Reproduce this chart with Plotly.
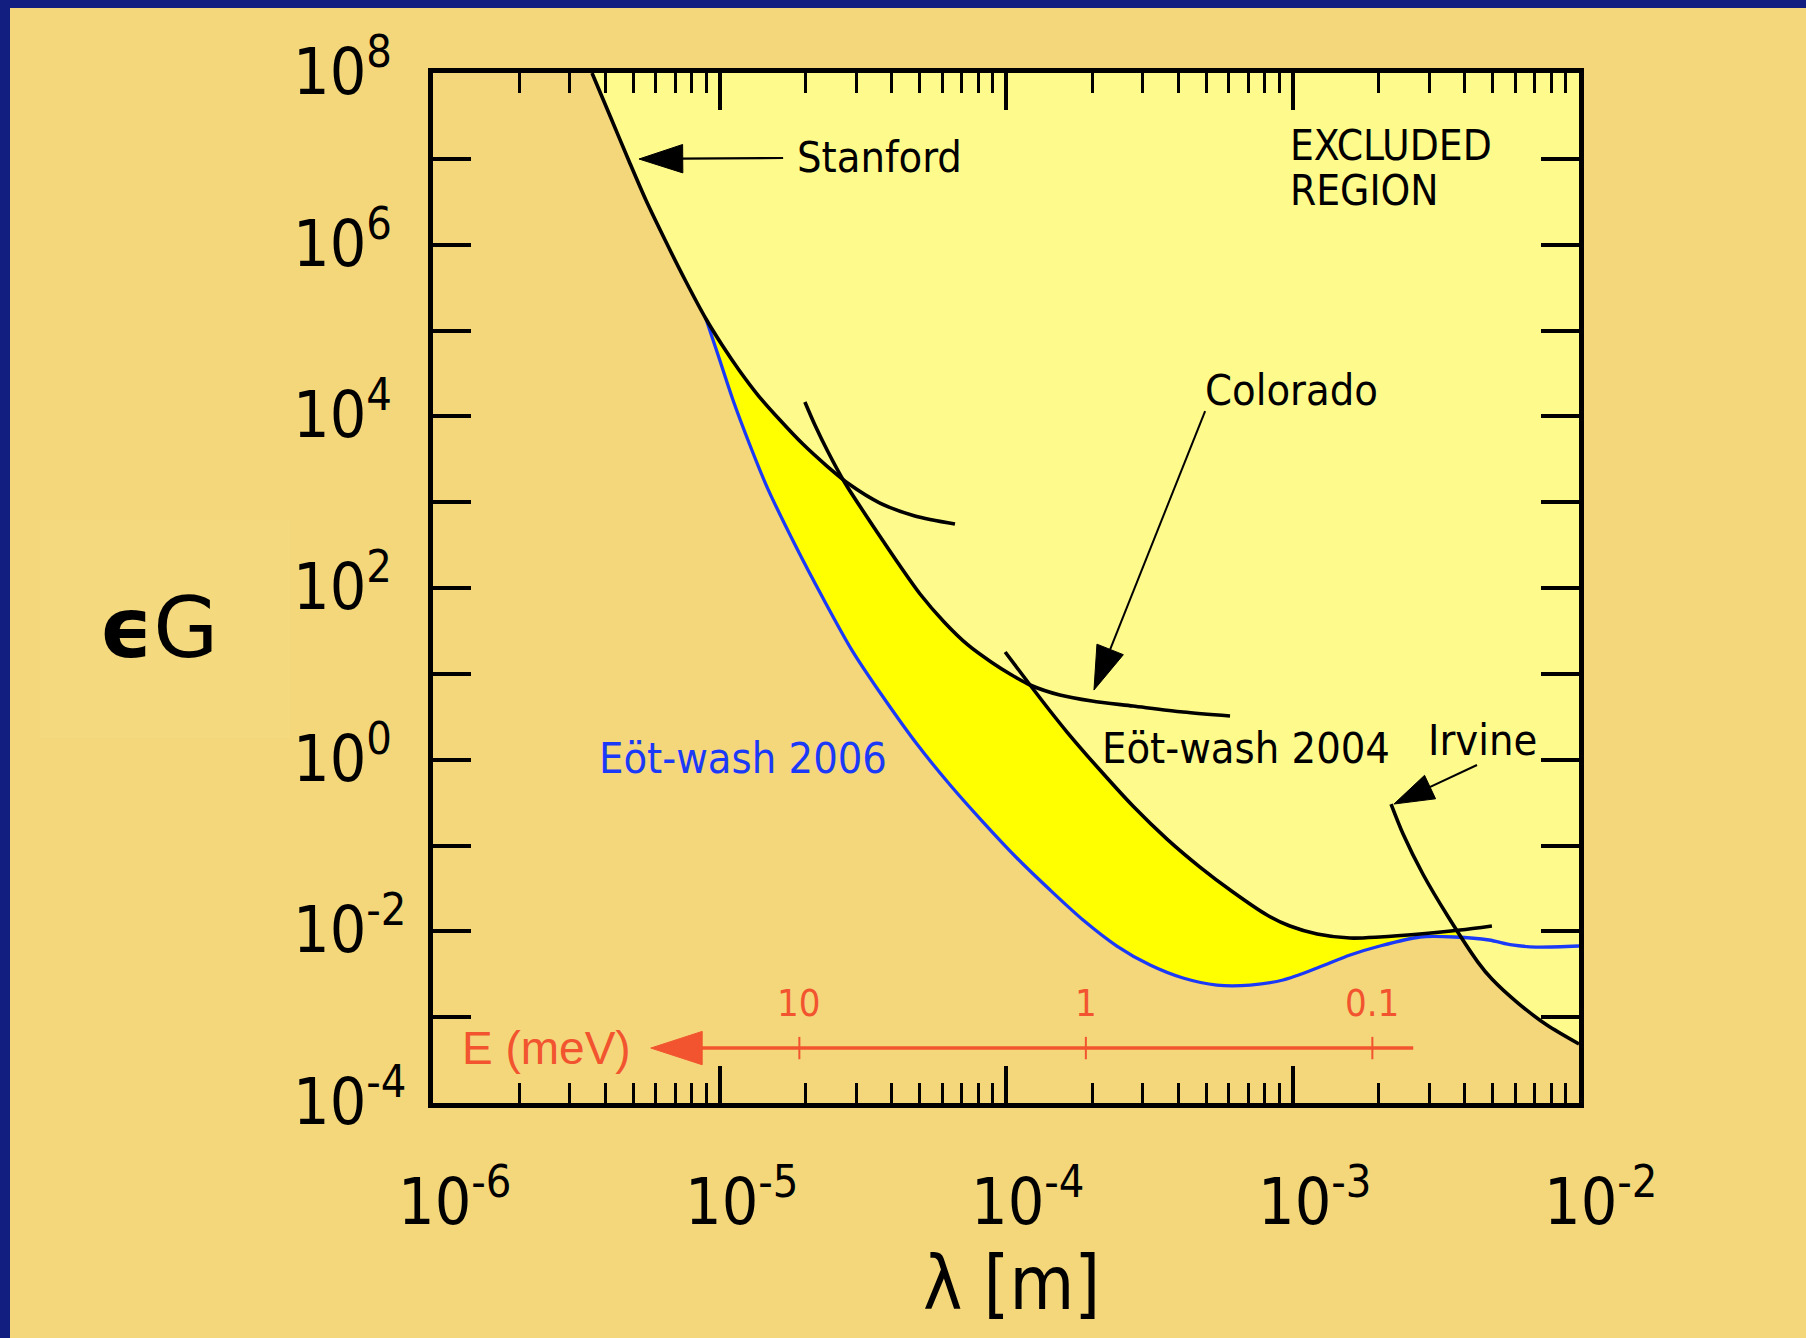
import numpy as np
import plotly.graph_objects as go

# ---------------------------------------------------------------------------
# Limit curves: log10(lambda / m) and log10(epsilon_G) along each boundary
# ---------------------------------------------------------------------------
STANFORD_LOG_LAMBDA = [-5.445, -5.379, -5.316, -5.257, -5.190, -5.120, -5.047, -4.991, -4.932,
                       -4.866, -4.789, -4.709, -4.625, -4.548, -4.440, -4.318, -4.178]
STANFORD_LOG_EPS = [8.000, 7.476, 6.975, 6.520, 6.054, 5.588, 5.134, 4.831, 4.540,
                    4.248, 3.957, 3.677, 3.421, 3.211, 2.990, 2.839, 2.745]

COLORADO_LOG_LAMBDA = [-4.702, -4.667, -4.621, -4.562, -4.492, -4.429, -4.377, -4.300, -4.216,
                       -4.133, -4.052, -3.986, -3.916, -3.812, -3.700, -3.557, -3.382, -3.218]
COLORADO_LOG_EPS = [4.167, 3.899, 3.584, 3.223, 2.862, 2.547, 2.291, 1.930, 1.604,
                    1.336, 1.138, 0.998, 0.870, 0.753, 0.683, 0.625, 0.555, 0.508]

EW2004_LOG_LAMBDA = [-4.003, -3.916, -3.846, -3.787, -3.672, -3.557, -3.438, -3.323, -3.208,
                     -3.089, -3.009, -2.914, -2.799, -2.695, -2.555, -2.415, -2.304]
EW2004_LOG_EPS = [1.254, 0.870, 0.567, 0.322, -0.121, -0.540, -0.925, -1.251, -1.542,
                  -1.810, -1.938, -2.031, -2.078, -2.066, -2.031, -1.985, -1.938]

EW2006_LOG_LAMBDA = [-5.047, -5.005, -4.953, -4.894, -4.834, -4.736, -4.639, -4.538, -4.429,
                     -4.311, -4.195, -4.080, -3.962, -3.846, -3.731, -3.613, -3.497, -3.382,
                     -3.264, -3.148, -3.033, -2.914, -2.799, -2.695, -2.555, -2.433, -2.314,
                     -2.234, -2.150, -2.000]
EW2006_LOG_EPS = [5.134, 4.714, 4.190, 3.666, 3.176, 2.501, 1.883, 1.277, 0.730,
                  0.182, -0.295, -0.727, -1.146, -1.519, -1.868, -2.171, -2.393, -2.544,
                  -2.626, -2.626, -2.567, -2.428, -2.276, -2.171, -2.066, -2.066, -2.101,
                  -2.159, -2.183, -2.171]

IRVINE_LOG_LAMBDA = [-2.656, -2.614, -2.545, -2.454, -2.353, -2.304, -2.213, -2.112, -2.000]
IRVINE_LOG_EPS = [-0.517, -0.866, -1.332, -1.845, -2.358, -2.556, -2.836, -3.092, -3.313]

# Energy scale drawn inside the frame (E = const / lambda)
ENERGY_TICKS_MEV = [10, 1, 0.1]
ENERGY_TICK_TEXT = ["10", "1", "0.1"]
ENERGY_SPAN_MEV = [0.072, 33.0]
LAMBDA_TIMES_E = 1.9e-4          # m * meV
ENERGY_AXIS_LOG_EPS = -3.36

# Axis labelling
X_LABEL_EXPONENTS = [-6, -5, -4, -3, -2]
Y_LABEL_EXPONENTS = [8, 6, 4, 2, 0, -2, -4]

# ---------------------------------------------------------------------------
# Colours, fonts, frame geometry
# ---------------------------------------------------------------------------
NAVY = "#131F80"
PARCHMENT = "#F4D77B"
PATCH = "#F5D97F"
EXCLUDED = "#FFFA8C"
NEW_EXCLUDED = "#FFFF00"
BLUE = "#1B3AF8"
RED = "#F2542F"

COND = "DejaVu Sans Condensed, sans-serif"
TICK_FONT_SIZE = 64
DIGIT_W = 0.572                   # advance of a digit in DejaVu Sans Condensed, in em

W, H = 1806, 1338
L, R, T, B = 433, 1579, 73, 1103          # plot frame in pixels
PW, PH = R - L, B - T


def px_to_paper_x(px):
    return (px - L) / PW


def px_to_paper_y(py):
    return (B - py) / PH


def arr(v):
    return np.asarray(v, dtype=float)


fig = go.Figure()

# ---------------------------------------------------------------------------
# Filled regions
# ---------------------------------------------------------------------------
limit_curves = [
    (arr(STANFORD_LOG_LAMBDA), arr(STANFORD_LOG_EPS)),
    (arr(COLORADO_LOG_LAMBDA), arr(COLORADO_LOG_EPS)),
    (arr(EW2004_LOG_LAMBDA), arr(EW2004_LOG_EPS)),
    (arr(IRVINE_LOG_LAMBDA), arr(IRVINE_LOG_EPS)),
]
grid = np.linspace(STANFORD_LOG_LAMBDA[0], IRVINE_LOG_LAMBDA[-1], 1200)


def on_grid(lx, ly):
    v = np.interp(grid, lx, ly)
    v[(grid < lx[0]) | (grid > lx[-1])] = np.nan
    return v


envelope = np.nanmin(np.vstack([on_grid(lx, ly) for lx, ly in limit_curves]), axis=0)
top = 10.0 ** 8

# newly excluded band (above the 2006 curve); the older region is painted over it
ew06_x = 10 ** arr(EW2006_LOG_LAMBDA)
ew06_y = 10 ** arr(EW2006_LOG_EPS)
fig.add_trace(go.Scatter(
    x=np.concatenate([ew06_x, [ew06_x[-1], ew06_x[0]]]),
    y=np.concatenate([ew06_y, [top, top]]),
    mode="none", fill="toself", fillcolor=NEW_EXCLUDED, hoverinfo="skip"))

env_x = 10 ** grid
env_y = 10 ** envelope
fig.add_trace(go.Scatter(
    x=np.concatenate([env_x, [env_x[-1], env_x[0]]]),
    y=np.concatenate([env_y, [top, top]]),
    mode="none", fill="toself", fillcolor=EXCLUDED, hoverinfo="skip"))

# ---------------------------------------------------------------------------
# Limit curves
# ---------------------------------------------------------------------------
fig.add_trace(go.Scatter(x=ew06_x, y=ew06_y, mode="lines",
                         line=dict(color=BLUE, width=3.3, shape="spline", smoothing=0.8),
                         hoverinfo="skip"))
for lx, ly in limit_curves:
    fig.add_trace(go.Scatter(x=10 ** lx, y=10 ** ly, mode="lines",
                             line=dict(color="black", width=3.6, shape="spline", smoothing=0.8),
                             hoverinfo="skip"))


# ---------------------------------------------------------------------------
# Pointer arrows (shaft + filled head at the tip)
# ---------------------------------------------------------------------------
def pointer(tail, tip, color, width, head):
    fig.add_trace(go.Scatter(
        x=[10 ** tail[0], 10 ** tip[0]], y=[10 ** tail[1], 10 ** tip[1]],
        mode="lines+markers", opacity=1,
        line=dict(color=color, width=width),
        marker=dict(symbol="arrow", size=[0, head], angle=0, angleref="previous",
                    color=color, opacity=1, line=dict(width=1, color=color)),
        hoverinfo="skip"))


pointer((-4.778, 7.010), (-5.281, 6.998), "black", 2.2, 46)
pointer((-3.305, 4.062), (-3.693, 0.811), "black", 2.0, 46)
pointer((-2.356, -0.062), (-2.646, -0.517), "black", 2.0, 42)

# energy scale
e_span_x = [LAMBDA_TIMES_E / e for e in ENERGY_SPAN_MEV]
e_level = 10 ** ENERGY_AXIS_LOG_EPS
fig.add_trace(go.Scatter(
    x=e_span_x, y=[e_level, e_level], mode="lines+markers", opacity=1,
    line=dict(color=RED, width=3.5),
    marker=dict(symbol="arrow", size=[0, 54], angle=0, angleref="previous",
                color=RED, opacity=1, line=dict(width=1, color=RED)),
    hoverinfo="skip"))
e_tick_x = [LAMBDA_TIMES_E / e for e in ENERGY_TICKS_MEV]
fig.add_trace(go.Scatter(
    x=e_tick_x, y=[e_level] * len(e_tick_x), mode="markers",
    marker=dict(symbol="line-ns", size=16, opacity=1, line=dict(color=RED, width=2)),
    hoverinfo="skip"))

annotations = []
for lam, txt in zip(e_tick_x, ENERGY_TICK_TEXT):
    annotations.append(dict(x=np.log10(lam), y=ENERGY_AXIS_LOG_EPS, xref="x", yref="y",
                            text=txt, showarrow=False, xanchor="center", yanchor="middle",
                            yshift=45, font=dict(family=COND, size=38, color=RED)))
annotations.append(dict(x=np.log10(e_span_x[-1]), y=ENERGY_AXIS_LOG_EPS, xref="x", yref="y",
                        text="E (meV)", showarrow=False, xanchor="right", yanchor="middle",
                        xshift=-18, yshift=0,
                        font=dict(family="Liberation Sans, Arial, sans-serif", size=46, color=RED)))


# ---------------------------------------------------------------------------
# Text labels inside the frame
# ---------------------------------------------------------------------------
def label(x, y, text, color="black", size=43, height=None):
    annotations.append(dict(x=x, y=y, xref="x", yref="y", text=text, showarrow=False,
                            xanchor="left", yanchor="middle", align="left", height=height,
                            font=dict(family=COND, size=size, color=color)))


label(-4.736, 7.02, "Stanford")
label(-3.016, 7.161, "EXCLUDED", size=42, height=44)
label(-3.016, 6.637, "REGION", size=42, height=44)
label(-3.312, 4.307, "Colorado")
label(-3.672, 0.136, "Eöt-wash 2004")
label(-2.534, 0.229, "Irvine")
label(-5.428, 0.019, "Eöt-wash 2006", color=BLUE)

# ---------------------------------------------------------------------------
# Tick labels and axis titles
# ---------------------------------------------------------------------------
for e in X_LABEL_EXPONENTS:
    annotations.append(dict(x=e, y=0, xref="x", yref="paper",
                            text=f"10<sup>{e}</sup>",
                            showarrow=False, xanchor="left", yanchor="top",
                            xshift=-DIGIT_W * TICK_FONT_SIZE, yshift=-50,
                            font=dict(family=COND, size=TICK_FONT_SIZE, color="black")))
for e in Y_LABEL_EXPONENTS:
    annotations.append(dict(x=px_to_paper_x(291), y=e, xref="paper", yref="y",
                            text=f"10<sup>{e}</sup>",
                            showarrow=False, xanchor="left", yanchor="middle",
                            yshift=6,
                            font=dict(family=COND, size=TICK_FONT_SIZE, color="black")))

annotations.append(dict(x=px_to_paper_x(158), y=px_to_paper_y(628), xref="paper", yref="paper",
                        text="<b>ϵ</b>G", showarrow=False, xanchor="center", yanchor="middle",
                        font=dict(family="DejaVu Sans, sans-serif", size=84, color="black")))
annotations.append(dict(x=px_to_paper_x(1011), y=px_to_paper_y(1283), xref="paper", yref="paper",
                        text="λ [m]", showarrow=False, xanchor="center", yanchor="middle",
                        font=dict(family=COND, size=74, color="black")))

# ---------------------------------------------------------------------------
# Background: navy edge, parchment sheet, slightly lighter patch behind the title
# ---------------------------------------------------------------------------
shapes = [
    dict(type="rect", xref="paper", yref="paper", layer="below",
         x0=px_to_paper_x(10), x1=px_to_paper_x(W + 5),
         y0=px_to_paper_y(H + 5), y1=px_to_paper_y(8),
         fillcolor=PARCHMENT, line=dict(width=0)),
    dict(type="rect", xref="paper", yref="paper", layer="below",
         x0=px_to_paper_x(40), x1=px_to_paper_x(290),
         y0=px_to_paper_y(738), y1=px_to_paper_y(520),
         fillcolor=PATCH, line=dict(width=0)),
]

minor_x = [m * 10.0 ** e for e in range(-6, -2) for m in range(2, 10)]

fig.update_layout(
    width=W, height=H,
    margin=dict(l=L, r=W - R, t=T, b=H - B, pad=0),
    paper_bgcolor=NAVY, plot_bgcolor="rgba(0,0,0,0)",
    showlegend=False,
    annotations=annotations,
    shapes=shapes,
    xaxis=dict(type="log", range=[-6, -2], showline=True, linewidth=5, linecolor="black",
               mirror="ticks", ticks="inside", ticklen=37, tickwidth=3.5, tickcolor="black",
               tickmode="array", tickvals=[10.0 ** e for e in X_LABEL_EXPONENTS],
               showticklabels=False, showgrid=False, zeroline=False,
               minor=dict(ticks="inside", ticklen=20, tickwidth=3, tickcolor="black",
                          tickmode="array", tickvals=minor_x, showgrid=False)),
    yaxis=dict(type="log", range=[-4, 8], showline=True, linewidth=5, linecolor="black",
               mirror="ticks", ticks="inside", ticklen=38, tickwidth=4, tickcolor="black",
               dtick=1, showticklabels=False, showgrid=False, zeroline=False),
)

fig.write_html("out.html")
